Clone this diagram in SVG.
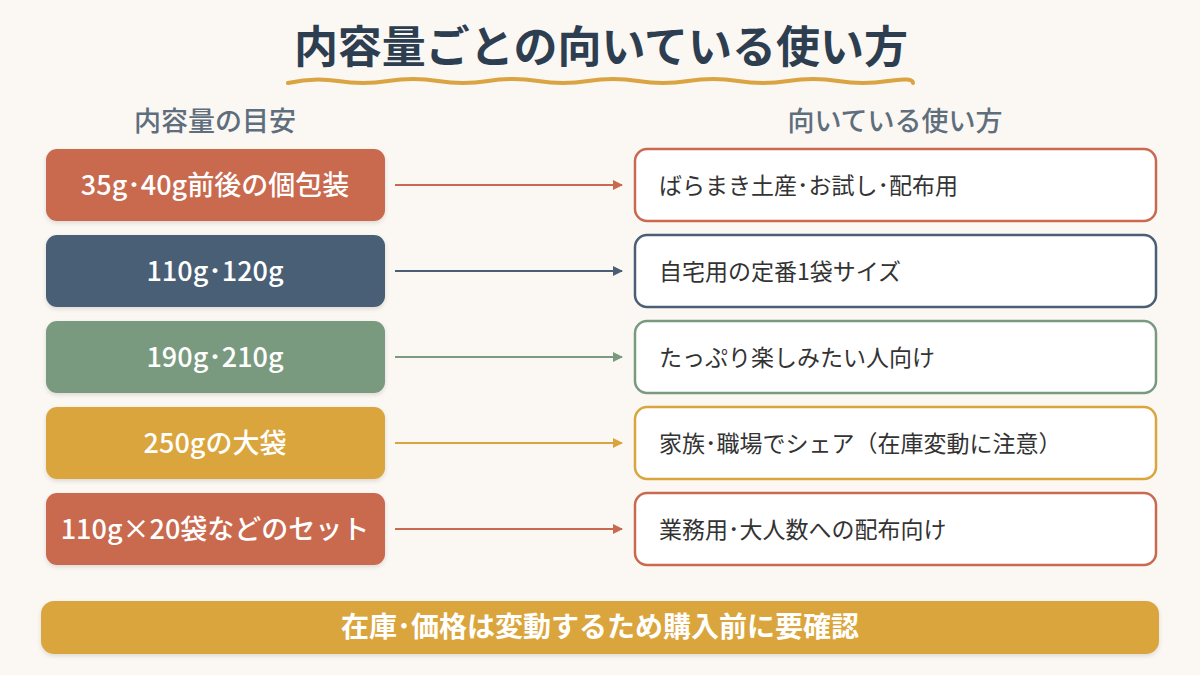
<svg xmlns="http://www.w3.org/2000/svg" width="1200" height="675" viewBox="0 0 1200 675">
<defs>
<filter id="sh" x="-5%" y="-10%" width="110%" height="130%">
<feDropShadow dx="0" dy="2" stdDeviation="2" flood-color="#000" flood-opacity="0.12"/>
</filter>
<marker id="ar-t" viewBox="0 0 10 10" refX="9" refY="5" markerWidth="5" markerHeight="5" orient="auto"><path d="M0,0 L10,5 L0,10 z" fill="#c96a50"/></marker>
<marker id="ar-s" viewBox="0 0 10 10" refX="9" refY="5" markerWidth="5" markerHeight="5" orient="auto"><path d="M0,0 L10,5 L0,10 z" fill="#4a5f75"/></marker>
<marker id="ar-g" viewBox="0 0 10 10" refX="9" refY="5" markerWidth="5" markerHeight="5" orient="auto"><path d="M0,0 L10,5 L0,10 z" fill="#7a9a80"/></marker>
<marker id="ar-y" viewBox="0 0 10 10" refX="9" refY="5" markerWidth="5" markerHeight="5" orient="auto"><path d="M0,0 L10,5 L0,10 z" fill="#dba53e"/></marker>
</defs>
<style>
text{font-family:"Noto Sans CJK JP","Noto Sans",sans-serif}
.title{font-size:44px;font-weight:700;fill:#2d3e50}
.hdr{font-size:27px;font-weight:500;fill:#5e6e7c}
.lt{font-size:27px;font-weight:500;fill:#fff}
.rt{font-size:23px;font-weight:400;fill:#333}
.rbox{fill:#fff;stroke-width:2.5}
.conn{stroke-width:2;fill:none}
</style>
<rect width="1200" height="675" fill="#fbf7f3"/>
<g id="title">
<text class="title" x="601" y="63" text-anchor="middle">内容量ごとの向いている使い方</text>
<path d="M288,83 Q313,77 338,81 T388,81 T438,81 T488,81 T538,81 T588,81 T638,81 T688,81 T738,81 T788,81 T838,81 T888,81 T913,83" fill="none" stroke="#d9a441" stroke-width="4" stroke-linecap="round"/>
</g>
<g id="headers">
<text class="hdr" x="215" y="131" text-anchor="middle">内容量の目安</text>
<text class="hdr" x="895" y="131" text-anchor="middle">向いている使い方</text>
</g>
<g id="connectors">
<line class="conn" x1="395" y1="185" x2="622" y2="185" stroke="#c96a50" marker-end="url(#ar-t)"/>
<line class="conn" x1="395" y1="271" x2="622" y2="271" stroke="#4a5f75" marker-end="url(#ar-s)"/>
<line class="conn" x1="395" y1="357" x2="622" y2="357" stroke="#7a9a80" marker-end="url(#ar-g)"/>
<line class="conn" x1="395" y1="443" x2="622" y2="443" stroke="#dba53e" marker-end="url(#ar-y)"/>
<line class="conn" x1="395" y1="529" x2="622" y2="529" stroke="#c96a50" marker-end="url(#ar-t)"/>
</g>
<g id="l1"><rect x="46" y="149" width="339" height="72" rx="11" fill="#c96a50" filter="url(#sh)"/><text class="lt" x="215" y="195" text-anchor="middle">35g･40g前後の個包装</text></g>
<g id="l2"><rect x="46" y="235" width="339" height="72" rx="11" fill="#4a5f75" filter="url(#sh)"/><text class="lt" x="215" y="281" text-anchor="middle">110g･120g</text></g>
<g id="l3"><rect x="46" y="321" width="339" height="72" rx="11" fill="#7a9a80" filter="url(#sh)"/><text class="lt" x="215" y="367" text-anchor="middle">190g･210g</text></g>
<g id="l4"><rect x="46" y="407" width="339" height="72" rx="11" fill="#dba53e" filter="url(#sh)"/><text class="lt" x="215" y="453" text-anchor="middle">250gの大袋</text></g>
<g id="l5"><rect x="46" y="493" width="339" height="72" rx="11" fill="#c96a50" filter="url(#sh)"/><text class="lt" x="215" y="539" text-anchor="middle">110g×20袋などのセット</text></g>
<g id="r1"><rect class="rbox" x="635" y="149" width="521" height="72" rx="12" stroke="#c96a50"/><text class="rt" x="659" y="194">ばらまき土産･お試し･配布用</text></g>
<g id="r2"><rect class="rbox" x="635" y="235" width="521" height="72" rx="12" stroke="#4a5f75"/><text class="rt" x="659" y="280">自宅用の定番1袋サイズ</text></g>
<g id="r3"><rect class="rbox" x="635" y="321" width="521" height="72" rx="12" stroke="#7a9a80"/><text class="rt" x="659" y="366">たっぷり楽しみたい人向け</text></g>
<g id="r4"><rect class="rbox" x="635" y="407" width="521" height="72" rx="12" stroke="#dba53e"/><text class="rt" x="659" y="452">家族･職場でシェア（在庫変動に注意）</text></g>
<g id="r5"><rect class="rbox" x="635" y="493" width="521" height="72" rx="12" stroke="#c96a50"/><text class="rt" x="659" y="538">業務用･大人数への配布向け</text></g>
<g id="note"><rect x="41" y="601" width="1118" height="53" rx="13" fill="#dba53e" filter="url(#sh)"/><text x="600" y="637" text-anchor="middle" style="font-size:28px;font-weight:700;fill:#fff">在庫･価格は変動するため購入前に要確認</text></g>
</svg>
